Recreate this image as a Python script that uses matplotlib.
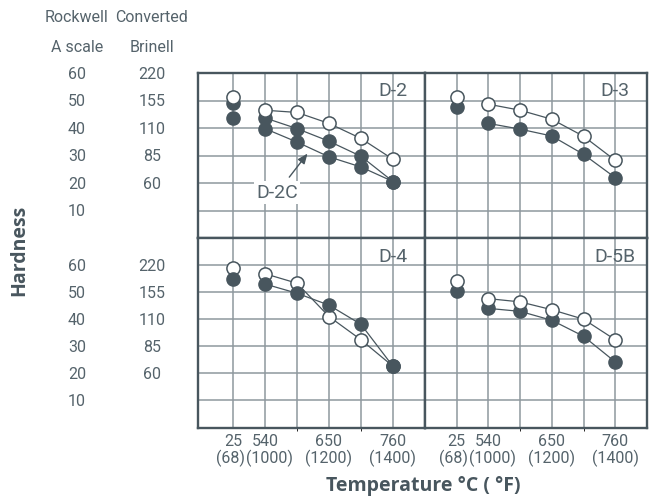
import numpy as np
import matplotlib
matplotlib.use("Agg")
import matplotlib.pyplot as plt
from matplotlib.transforms import blended_transform_factory

# temperatures (deg C) tested, plus the ones labelled on the axis
temps_c = [25, 540, 595, 650, 705, 760]
tick_temps_c = [25, 540, 650, 760]
tick_temps_f = [68, 1000, 1200, 1400]

# hardness, Rockwell A scale
d2_open = [51.3, 46.6, 45.8, 41.8, 36.3, 28.7]
d2_filled = [49.1, 43.8, 39.9, 35.3, 29.8, 20.6]
d2c_filled = [43.8, 39.9, 35.0, 29.6, 25.9, 20.6]
d3_open = [51.5, 48.8, 46.6, 43.3, 37.1, 28.3]
d3_filled = [47.6, 41.8, 39.7, 37.2, 30.5, 22.0]
d4_open = [59.0, 56.8, 53.3, 41.0, 32.4, 22.6]
d4_filled = [54.8, 53.0, 49.6, 45.2, 38.1, 22.6]
d5b_open = [54.3, 47.6, 46.4, 43.5, 40.0, 32.4]
d5b_filled = [50.4, 44.0, 42.9, 39.6, 33.7, 24.2]

rockwell_ticks = [60, 50, 40, 30, 20, 10]
brinell_ticks = [220, 155, 110, 85, 60]

dark = "#48565e"
text_c = "#55636b"
grid_c = "#8e989e"

plt.rcParams["font.family"] = ["Roboto", "DejaVu Sans"]
fs = 11.5

fig = plt.figure(figsize=(6.58, 5.02), dpi=100)

x = np.arange(1, len(temps_c) + 1)
tick_pos = [x[temps_c.index(t)] for t in tick_temps_c]
# small sideways nudges so "(68)(1000)" sits side by side as in the original
f_nudge = [-2.0, 3.0, 0, 0]

panels = [
    ("D-2", [0.3005, 0.5239, 0.3454, 0.3277], (-0.1, 7), 60, [d2_open], [d2_filled, d2c_filled], True),
    ("D-3", [0.6459, 0.5239, 0.3374, 0.3277], (0, 7), 60, [d3_open], [d3_filled], True),
    ("D-4", [0.3005, 0.1464, 0.3454, 0.3775], (-0.1, 7), 70, [d4_open], [d4_filled], False),
    ("D-5B", [0.6459, 0.1464, 0.3374, 0.3775], (0, 7), 70, [d5b_open], [d5b_filled], True),
]

axes = {}
for name, rect, xlim, ymax, opens, filleds, open_top in panels:
    ax = fig.add_axes(rect)
    axes[name] = ax
    ax.set_xlim(*xlim)
    ax.set_ylim(0, ymax)
    ax.set_xticks(np.arange(1, 7))
    ax.set_yticks(np.arange(10, ymax, 10))
    ax.grid(True, color=grid_c, linewidth=1.1, zorder=0)
    ax.set_axisbelow(True)
    ax.tick_params(length=0, labelleft=False, labelbottom=False)
    for sp in ax.spines.values():
        sp.set_color(dark)
        sp.set_linewidth(1.7)

    z_open, z_fill = (5, 4) if open_top else (4, 5)
    for s in opens + filleds:
        ax.plot(x[1:], s[1:], color=dark, linewidth=0.9, zorder=3)
    for s in filleds:
        ax.plot(x, s, "o", ms=9.5, mfc=dark, mec=dark, mew=1.0,
                linestyle="none", zorder=z_fill)
    for s in opens:
        ax.plot(x, s, "o", ms=9.5, mfc="white", mec=dark, mew=1.1,
                linestyle="none", zorder=z_open)

    ty = ymax - 6.0 if ymax == 60 else ymax - 6.6
    ax.text(6, ty, name, ha="center", va="center", fontsize=14, color=text_c, zorder=6)

    # hardness scales on the left
    if xlim[0] < 0:
        tr = blended_transform_factory(fig.transFigure, ax.transData)
        for v in rockwell_ticks:
            ax.text(77 / 658, v, str(v), transform=tr, ha="center", va="center",
                    fontsize=fs, color=text_c, clip_on=False)
        for v, b in zip(rockwell_ticks, brinell_ticks):
            ax.text(152 / 658, v, str(b), transform=tr, ha="center", va="center",
                    fontsize=fs, color=text_c, clip_on=False)

for name in ["D-4", "D-5B"]:
    ax = axes[name]
    ax.tick_params(labelbottom=True, pad=4)
    ax.set_xticks(tick_pos, [str(c) for c in tick_temps_c], fontsize=fs, color=text_c)
    ax.set_xticks(np.arange(1, 7), minor=True)
    ax.grid(True, which="minor", axis="x", color=grid_c, linewidth=1.1)
    for p, f, dx in zip(tick_pos, tick_temps_f, f_nudge):
        ax.annotate(f"({f})", xy=(p, 0), xycoords=("data", "axes fraction"),
                    xytext=(dx, -15), textcoords="offset points",
                    ha="center", va="top", fontsize=fs, color=text_c)

# D-2C callout
ax = axes["D-2"]
ax.annotate("", xy=(3.33, 30.8), xytext=(2.76, 22.2),
            arrowprops=dict(arrowstyle="-|>,head_length=0.6,head_width=0.25",
                            color=dark, lw=1.0, shrinkA=0, shrinkB=0), zorder=6)
ax.text(2.38, 16.6, "D-2C", ha="center", va="center", fontsize=14, color=text_c,
        zorder=6, bbox=dict(boxstyle="square,pad=0.12", fc="white", ec="none"))

# headers and axis titles
fig.text(77 / 658, 1 - 18 / 502, "Rockwell", ha="center", va="center", fontsize=fs, color=text_c)
fig.text(152 / 658, 1 - 18 / 502, "Converted", ha="center", va="center", fontsize=fs, color=text_c)
fig.text(77 / 658, 1 - 47 / 502, "A scale", ha="center", va="center", fontsize=fs, color=text_c)
fig.text(152 / 658, 1 - 47 / 502, "Brinell", ha="center", va="center", fontsize=fs, color=text_c)

fig.text(19 / 658, 1 - 250 / 502, "Hardness", rotation=90, ha="center", va="center",
         fontsize=14, fontweight="bold", color=dark, family="Open Sans")
fig.text(423 / 658, 1 - 486 / 502, "Temperature °C ( °F)", ha="center", va="center",
         fontsize=14, fontweight="bold", color=dark, family="Open Sans")

fig.savefig("out.png", dpi=100)
